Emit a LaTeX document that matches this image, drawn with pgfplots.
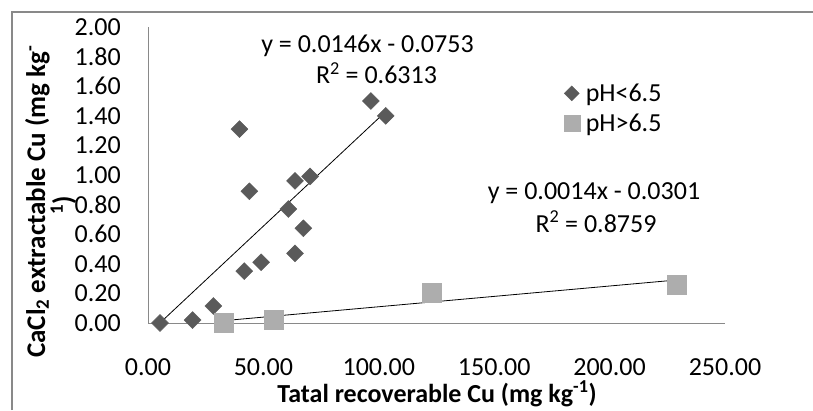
\documentclass[border=0pt]{standalone}
\usepackage{fontspec}
\setmainfont{Carlito}
\usepackage{pgfplots}
\pgfplotsset{compat=1.18}
\definecolor{acid}{HTML}{5A5A5A}
\definecolor{alk}{HTML}{ADADAD}
\definecolor{axgray}{HTML}{898989}
\newcommand\fs{\fontsize{26}{31}\selectfont}
\pgfplotsset{
  legdiamond/.style={legend image code/.code={\draw[##1, mark size=5.3pt] plot coordinates {(0.3cm,0cm)};}},
  legsquare/.style={legend image code/.code={\draw[##1, mark size=8pt] plot coordinates {(0.3cm,0cm)};}},
}

\begin{document}
\begin{tikzpicture}[x=1pt,y=1pt]
\useasboundingbox (0,0) rectangle (813,410);
\draw[axgray, line width=2pt] (12,0) -- (12,398) -- (813,398);
\begin{axis}[
  at={(148pt,87pt)}, anchor=south west,
  scale only axis, width=577pt, height=296pt,
  xmin=0, xmax=250, ymin=0, ymax=2,
  xtick={0,50,100,150,200,250},
  ytick={0,0.2,0.4,0.6,0.8,1.0,1.2,1.4,1.6,1.8,2.0},
  axis lines*=left,
  axis line style={axgray, line width=1pt},
  major tick length=0pt,
  tick label style={font=\fs, inner sep=0pt},
  /pgf/number format/assume math mode=true,
  /pgf/number format/.cd, fixed, fixed zerofill, precision=2,
  /pgfplots/.cd,
  yticklabel style={anchor=east, xshift=-27pt},
  xticklabel style={anchor=base, yshift=-52pt},
  clip=false,
  legend style={at={(0.715,0.725)}, anchor=west, draw=none, fill=none,
    font=\fs, row sep=7pt,
    /tikz/every odd column/.append style={column sep=4pt}},
]
\addplot[only marks, mark=square*, mark size=6pt, color=acid,
  mark options={rotate=45, fill=acid, draw=acid}, legdiamond] coordinates {
  (5.2,0.00) (19.3,0.02) (28.3,0.115) (41.7,0.35) (49.0,0.41)
  (63.7,0.47) (67.3,0.64) (60.8,0.77) (39.6,1.31) (43.9,0.89)
  (63.7,0.96) (70.2,0.99) (96.6,1.50) (103.0,1.40)
};
\addlegendentry{pH<6.5}
\addplot[only marks, mark=square*, mark size=9.5pt, color=alk,
  mark options={fill=alk, draw=alk}, legsquare] coordinates {
  (32.6,0.00) (54.6,0.02) (122.9,0.205) (229.0,0.257)
};
\addlegendentry{pH>6.5}
\addplot[forget plot, black, line width=0.8pt] coordinates {(5.2,0.0006) (103.0,1.4285)};
\addplot[forget plot, black, line width=0.8pt] coordinates {(32.6,0.0155) (229.0,0.2905)};
\end{axis}
\node[font=\fs, anchor=base] at (367.5,357) {y = 0.0146x - 0.0753};
\node[font=\fs, anchor=base] at (376.5,326.7) {R\textsuperscript{2} = 0.6313};
\node[font=\fs, anchor=base] at (594,210) {y = 0.0014x - 0.0301};
\node[font=\fs, anchor=base] at (596,178) {R\textsuperscript{2} = 0.8759};
\node[font=\fs\bfseries, anchor=base] at (437,8) {Tatal recoverable Cu (mg kg\textsuperscript{-1})};
\node[font=\fontsize{27}{32}\selectfont\bfseries, anchor=base, rotate=90] at (45,208.5) {CaCl\textsubscript{2} extractable Cu (mg kg\textsuperscript{-}};
\node[font=\fontsize{27}{32}\selectfont\bfseries, anchor=base, rotate=90] at (72,205) {\textsuperscript{1})};
\end{tikzpicture}
\end{document}
